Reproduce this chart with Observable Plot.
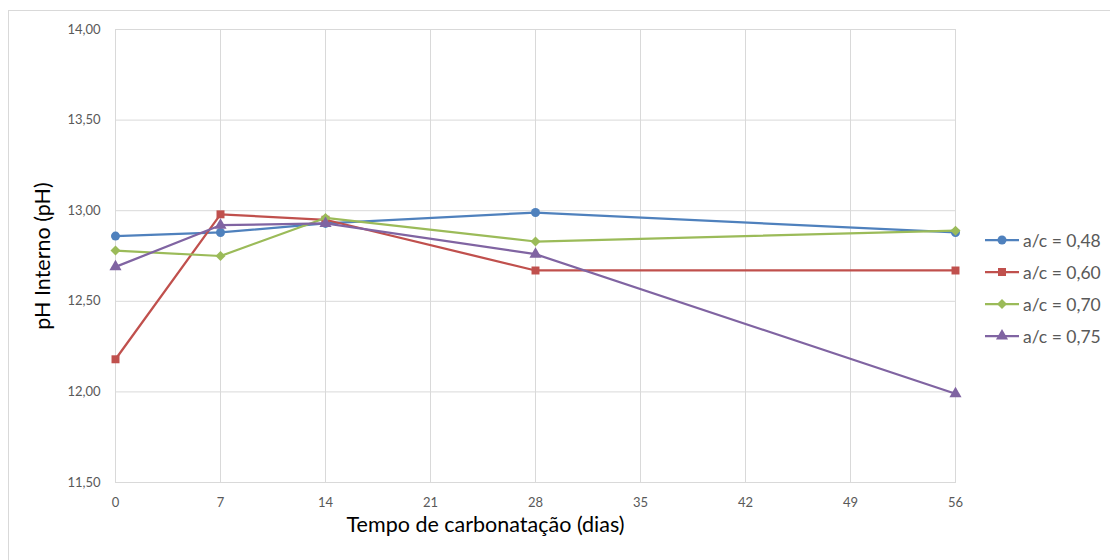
<!DOCTYPE html>
<html><head><meta charset="utf-8">
<script src="https://cdn.jsdelivr.net/npm/d3@7"></script>
<script src="https://cdn.jsdelivr.net/npm/@observablehq/plot@0.6"></script>
<style>
body{margin:0;background:#fff;}
#wrap{position:relative;width:1110px;height:560px;overflow:hidden;font-family:Lato,"Open Sans",sans-serif;background:#fff;}
#border{position:absolute;left:8px;top:10px;width:1120px;height:570px;border:1px solid #d9d9d9;pointer-events:none;}
#legend{position:absolute;left:984px;top:224px;}
.item{display:flex;align-items:center;height:32px;font-size:17.5px;color:#595959;}
.item svg{margin-right:3px;}
</style></head>
<body>
<div id="wrap"><div id="chart"></div><div id="border"></div><div id="legend"></div></div>
<script>
const days = [0, 7, 14, 28, 56];
const seriesNames = ["a/c = 0,48", "a/c = 0,60", "a/c = 0,70", "a/c = 0,75"];
const ph048 = [12.86, 12.88, 12.93, 12.99, 12.88];
const ph060 = [12.18, 12.98, 12.95, 12.67, 12.67];
const ph070 = [12.78, 12.75, 12.96, 12.83, 12.89];
const ph075 = [12.69, 12.92, 12.93, 12.76, 11.99];
const xTicks = [0, 7, 14, 21, 28, 35, 42, 49, 56];
const yTicks = [11.5, 12.0, 12.5, 13.0, 13.5, 14.0];
const colors = ["#4F81BD", "#C0504D", "#9BBB59", "#8064A2"];
const symbols = ["circle", "square", "diamond2", "triangle"];
const xLabel = "Tempo de carbonatação (dias)";
const yLabel = "pH Interno (pH)";

const values = [ph048, ph060, ph070, ph075];
const rows = seriesNames.flatMap((s, i) => days.map((d, j) => ({series: s, day: d, ph: values[i][j]})));

const seriesMarks = seriesNames.flatMap(s => {
  const data = rows.filter(r => r.series === s);
  return [
    Plot.line(data, {x: "day", y: "ph", stroke: "series", strokeWidth: 2.25}),
    Plot.dot(data, {x: "day", y: "ph", fill: "series", symbol: "series", r: 4.5, stroke: "none"})
  ];
});

const chart = Plot.plot({
  width: 1110, height: 560,
  marginLeft: 115, marginRight: 155, marginTop: 29, marginBottom: 78,
  style: {fontFamily: "Lato, 'Open Sans', sans-serif", background: "transparent", overflow: "visible"},
  x: {domain: [0, 56]},
  y: {domain: [11.5, 14]},
  color: {domain: seriesNames, range: colors},
  symbol: {domain: seriesNames, range: symbols},
  marks: [
    Plot.gridX(xTicks, {stroke: "#d9d9d9", strokeOpacity: 1}),
    Plot.gridY(yTicks, {stroke: "#d9d9d9", strokeOpacity: 1}),
    Plot.frame({stroke: "#d9d9d9"}),
    Plot.axisX(xTicks, {tickSize: 0, tickPadding: 15, fontSize: 13, fill: "#595959", label: null, tickFormat: d => String(d)}),
    Plot.axisY(yTicks, {tickSize: 0, tickPadding: 15, fontSize: 13, fill: "#595959", label: null, tickFormat: d => d.toFixed(2).replace(".", ",")}),
    ...seriesMarks,
    Plot.text([yLabel], {text: d => d, frameAnchor: "left", dx: -72, rotate: -90, fontSize: 21.5, fill: "black", textAnchor: "middle", lineAnchor: "middle"}),
    Plot.text([xLabel], {text: d => d, frameAnchor: "bottom", dy: 43, dx: -50, fontSize: 21.5, fill: "black", textAnchor: "middle", lineAnchor: "middle"})
  ]
});
document.getElementById("chart").appendChild(chart);

const legend = d3.select("#legend");
const symMap = {circle: d3.symbolCircle, square: d3.symbolSquare, diamond2: d3.symbolDiamond2, triangle: d3.symbolTriangle};
seriesNames.forEach((s, i) => {
  const item = legend.append("div").attr("class", "item");
  const svg = item.append("svg").attr("width", 36).attr("height", 14);
  svg.append("line").attr("x1", 1).attr("x2", 35).attr("y1", 7).attr("y2", 7)
    .attr("stroke", colors[i]).attr("stroke-width", 2.25);
  svg.append("path").attr("transform", "translate(18,7)")
    .attr("d", d3.symbol(symMap[symbols[i]], Math.PI * 4.5 * 4.5)())
    .attr("fill", colors[i]);
  item.append("span").text(s);
});
</script>
</body></html>
